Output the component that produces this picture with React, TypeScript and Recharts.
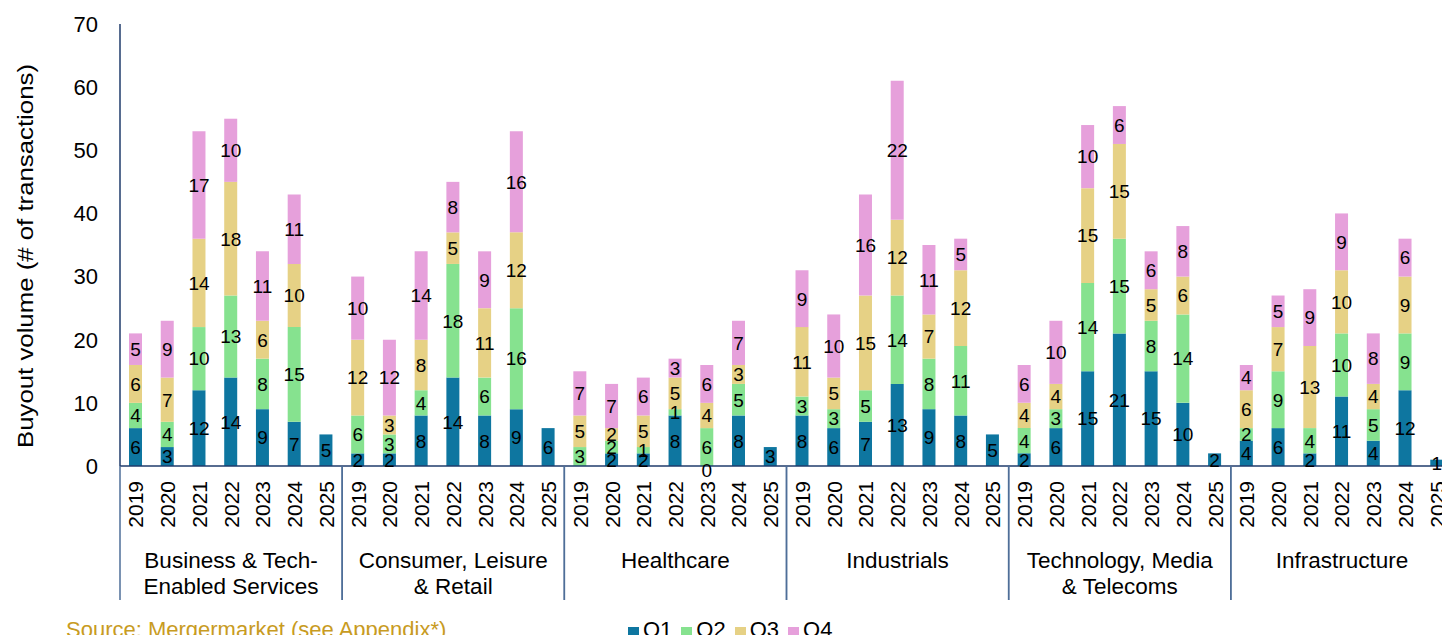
import { Bar, BarChart, LabelList, Legend, XAxis, YAxis } from "recharts";

const years = ["2019", "2020", "2021", "2022", "2023", "2024", "2025"];

const sectorLines = [
  ["Business & Tech-", "Enabled Services"],
  ["Consumer, Leisure", "& Retail"],
  ["Healthcare"],
  ["Industrials"],
  ["Technology, Media", "& Telecoms"],
  ["Infrastructure"],
];

// one row per sector, one value per year
const q1 = [
  [6, 3, 12, 14, 9, 7, 5],
  [2, 2, 8, 14, 8, 9, 6],
  [null, 2, 2, 8, 0, 8, 3],
  [8, 6, 7, 13, 9, 8, 5],
  [2, 6, 15, 21, 15, 10, 2],
  [4, 6, 2, 11, 4, 12, 1],
];
const q2 = [
  [4, 4, 10, 13, 8, 15, null],
  [6, 3, 4, 18, 6, 16, null],
  [3, 2, 1, 1, 6, 5, null],
  [3, 3, 5, 14, 8, 11, null],
  [4, 3, 14, 15, 8, 14, null],
  [2, 9, 4, 10, 5, 9, null],
];
const q3 = [
  [6, 7, 14, 18, 6, 10, null],
  [12, 3, 8, 5, 11, 12, null],
  [5, 2, 5, 5, 4, 3, null],
  [11, 5, 15, 12, 7, 12, null],
  [4, 4, 15, 15, 5, 6, null],
  [6, 7, 13, 10, 4, 9, null],
];
const q4 = [
  [5, 9, 17, 10, 11, 11, null],
  [10, 12, 14, 8, 9, 16, null],
  [7, 7, 6, 3, 6, 7, null],
  [9, 10, 16, 22, 11, 5, null],
  [6, 10, 10, 6, 6, 8, null],
  [4, 5, 9, 9, 8, 6, null],
];

const yTicks = [0, 10, 20, 30, 40, 50, 60, 70];

const colors = { Q1: "#0E76A0", Q2: "#86E28F", Q3: "#E6D185", Q4: "#E6A0DB" };

const data = sectorLines.flatMap((lines, s) =>
  years.map((year, y) => ({
    key: `${s}-${year}`,
    year,
    Q1: q1[s][y],
    Q2: q2[s][y],
    Q3: q3[s][y],
    Q4: q4[s][y],
  }))
);

const W = 1460;
const H = 643;
const LEFT = 120;
const RIGHT_MARGIN = 7;
const TOP = 24;
const X_AXIS_H = 177;
const PLOT_BOTTOM = H - X_AXIS_H;
const BAND = (W - LEFT - RIGHT_MARGIN) / data.length;
const FONT = "'Liberation Sans', Arial, sans-serif";
const AXIS_COLOR = "#1F3B6B";
const SEP_COLOR = "#4E6E98";

function YearTick(props: any) {
  const { x, index } = props;
  const i = index ?? props.payload?.index ?? 0;
  const s = Math.floor(i / 7);
  const pos = i % 7;
  return (
    <g>
      <text
        transform={`translate(${x},${PLOT_BOTTOM + 15}) rotate(-90)`}
        textAnchor="end"
        dy="0.36em"
        fontSize={21}
        fontFamily={FONT}
        fill="#000"
      >
        {years[pos]}
      </text>
      {pos === 0 && (
        <line x1={x - BAND / 2} x2={x - BAND / 2} y1={PLOT_BOTTOM} y2={600} stroke={SEP_COLOR} strokeWidth={1.5} />
      )}
      {pos === 6 && (
        <line x1={x + BAND / 2} x2={x + BAND / 2} y1={PLOT_BOTTOM} y2={600} stroke={SEP_COLOR} strokeWidth={1.5} />
      )}
      {pos === 3 &&
        sectorLines[s].map((line, k) => (
          <text
            key={k}
            x={x}
            y={568 + k * 26}
            textAnchor="middle"
            fontSize={22.5}
            fontFamily={FONT}
            fill="#000"
          >
            {line}
          </text>
        ))}
    </g>
  );
}

function YTitle() {
  return (
    <text
      transform="translate(33,256) rotate(-90)"
      textAnchor="middle"
      fontSize={22}
      fontFamily={FONT}
      fill="#000"
      textLength={384}
      lengthAdjust="spacingAndGlyphs"
    >
      Buyout volume (# of transactions)
    </text>
  );
}

function SegmentLabel(props: any) {
  const { x, y, width, height, value, withZeroBelow } = props;
  if (value === null || value === undefined) return null;
  const cx = x + width / 2;
  // a zero-height Q1 segment gets no label of its own, so draw it from the Q2 segment
  const row = data[Math.floor((cx - LEFT) / BAND)];
  const zero = withZeroBelow && row && row.Q1 === 0;
  return (
    <g>
      <text
        x={cx}
        y={y + height / 2}
        dy="0.36em"
        textAnchor="middle"
        fontSize={19}
        fontFamily={FONT}
        fill="#000"
      >
        {value}
      </text>
      {zero && (
        <text x={cx} y={y + height + 4} dy="0.36em" textAnchor="middle" fontSize={19} fontFamily={FONT} fill="#000">
          {row.Q1}
        </text>
      )}
    </g>
  );
}

function LegendContent(props: any) {
  const items = props.payload || [];
  return (
    <div style={{ position: "relative", width: 1450, height: 26, fontFamily: FONT }}>
      <div
        style={{
          position: "absolute",
          left: 66,
          top: 0,
          fontSize: 22,
          lineHeight: "26px",
          color: "#C89B22",
          whiteSpace: "nowrap",
        }}
      >
        Source: Mergermarket (see Appendix*)
      </div>
      <div style={{ position: "absolute", left: 628, top: 0, display: "flex", fontSize: 22, lineHeight: "26px" }}>
        {items.map((it: any) => (
          <div key={it.value} style={{ display: "flex", alignItems: "center", marginRight: 9 }}>
            <span style={{ display: "inline-block", width: 11, height: 12, background: it.color, marginRight: 4, marginTop: 5 }} />
            <span style={{ color: "#000" }}>{it.value}</span>
          </div>
        ))}
      </div>
    </div>
  );
}

export default function App() {
  return (
    <div style={{ margin: -8, width: 1450, height: 643, overflow: "hidden", position: "relative", background: "#fff" }}>
      <BarChart
        width={W}
        height={H}
        data={data}
        margin={{ top: TOP, right: RIGHT_MARGIN, bottom: 0, left: 0 }}
        barSize={13}
      >
        <XAxis
          dataKey="key"
          height={X_AXIS_H}
          interval={0}
          tick={<YearTick />}
          tickLine={false}
          axisLine={{ stroke: AXIS_COLOR, strokeWidth: 1.5 }}
        />
        <YAxis
          width={LEFT}
          domain={[0, 70]}
          ticks={yTicks}
          interval={0}
          tickLine={false}
          tickSize={10}
          tickMargin={12}
          axisLine={{ stroke: AXIS_COLOR, strokeWidth: 1.5 }}
          tick={{ fontSize: 22, fill: "#000", fontFamily: FONT }}
          label={<YTitle />}
        />
        <Legend
          verticalAlign="middle"
          align="center"
          layout="horizontal"
          content={<LegendContent />}
          wrapperStyle={{ position: "absolute", left: 0, top: 617, width: 1450 }}
        />
        {(["Q1", "Q2", "Q3", "Q4"] as const).map((q) => (
          <Bar key={q} dataKey={q} stackId="a" fill={colors[q]} isAnimationActive={false}>
            <LabelList dataKey={q} content={<SegmentLabel withZeroBelow={q === "Q2"} />} />
          </Bar>
        ))}
      </BarChart>
    </div>
  );
}
